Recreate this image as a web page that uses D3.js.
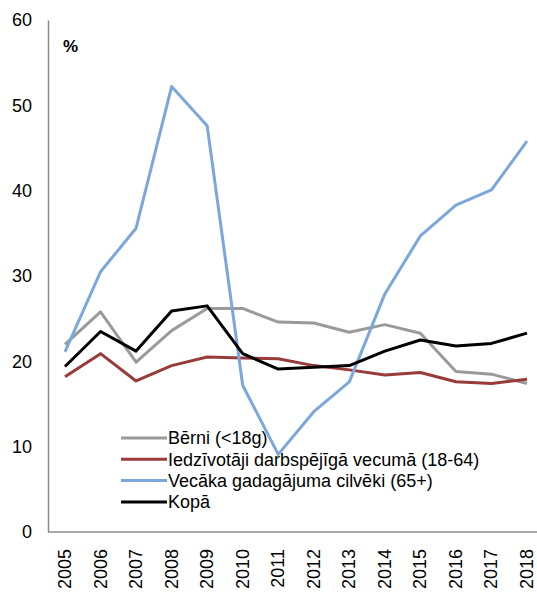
<!DOCTYPE html>
<html>
<head>
<meta charset="utf-8">
<script src="https://cdn.jsdelivr.net/npm/d3@7"></script>
<style>
  body { margin: 0; background: #fff; }
  svg { display: block; font-family: "Liberation Sans", Arial, sans-serif; }
</style>
</head>
<body>
<div id="app"></div>
<script>
// data
const years = ["2005","2006","2007","2008","2009","2010","2011","2012","2013","2014","2015","2016","2017","2018"];
const berni   = [22.0, 25.8, 19.9, 23.6, 26.2, 26.2, 24.6, 24.5, 23.4, 24.3, 23.3, 18.8, 18.5, 17.4];
const darbsp  = [18.2, 20.9, 17.7, 19.5, 20.5, 20.4, 20.3, 19.5, 19.0, 18.4, 18.7, 17.6, 17.4, 17.9];
const vecaka  = [21.1, 30.5, 35.6, 52.2, 47.6, 17.2, 9.1, 14.1, 17.6, 27.9, 34.7, 38.3, 40.1, 45.8];
const kopa    = [19.4, 23.5, 21.2, 25.9, 26.5, 20.9, 19.1, 19.3, 19.5, 21.2, 22.5, 21.8, 22.1, 23.3];
const seriesNames = ["Bērni (<18g)", "Iedzīvotāji darbspējīgā vecumā (18-64)", "Vecāka gadagājuma cilvēki (65+)", "Kopā"];
const yTicks = [0, 10, 20, 30, 40, 50, 60];

const series = [berni, darbsp, vecaka, kopa].map((v, i) => ({name: seriesNames[i], values: v}));
const color = d3.scaleOrdinal().domain(seriesNames).range(["#9a9a9a", "#983b39", "#7ba7dc", "#000000"]);

const width = 537, height = 596;
const svg = d3.select("#app").append("svg")
    .attr("width", width)
    .attr("height", height);

// plot area
const plotLeft = 48, plotTop = 20, plotBottom = 532;

const x = d3.scalePoint().domain(years).range([65, 527]);
const y = d3.scaleLinear().domain([0, 60]).range([plotBottom, plotTop]);

// y axis
const yAxis = svg.append("g")
    .attr("transform", `translate(${plotLeft},0)`)
    .call(d3.axisLeft(y).tickValues(yTicks).tickSize(0).tickPadding(16));
yAxis.select(".domain").attr("stroke", "#8c8c8c").attr("stroke-width", 1.5);
yAxis.selectAll("text").attr("font-size", 18).attr("fill", "#000").attr("font-family", "Liberation Sans, Arial, sans-serif");

// x axis
svg.append("line")
    .attr("x1", plotLeft).attr("x2", width)
    .attr("y1", plotBottom).attr("y2", plotBottom)
    .attr("stroke", "#8c8c8c").attr("stroke-width", 1.5);

svg.append("g")
    .selectAll("text")
    .data(years)
    .join("text")
    .attr("transform", d => `translate(${x(d) + 6},549) rotate(-90)`)
    .attr("text-anchor", "end")
    .attr("font-size", 18)
    .text(d => d);

// % label
svg.append("text")
    .attr("x", 63).attr("y", 52)
    .attr("font-size", 17)
    .attr("font-weight", "bold")
    .text("%");

// lines
const line = d3.line()
    .x((d, i) => x(years[i]))
    .y(d => y(d));

svg.append("g")
    .selectAll("path")
    .data(series)
    .join("path")
    .attr("fill", "none")
    .attr("stroke", d => color(d.name))
    .attr("stroke-width", 3)
    .attr("stroke-linejoin", "round")
    .attr("d", d => line(d.values));

// legend
const legend = svg.append("g")
    .selectAll("g")
    .data(seriesNames)
    .join("g")
    .attr("transform", (d, i) => `translate(121,${438 + i * 21.3})`);

legend.append("line")
    .attr("x1", 0).attr("x2", 46)
    .attr("stroke", d => color(d))
    .attr("stroke-width", 3);

legend.append("text")
    .attr("x", 47)
    .attr("dy", "0.35em")
    .attr("font-size", 18)
    .text(d => d);
</script>
</body>
</html>
